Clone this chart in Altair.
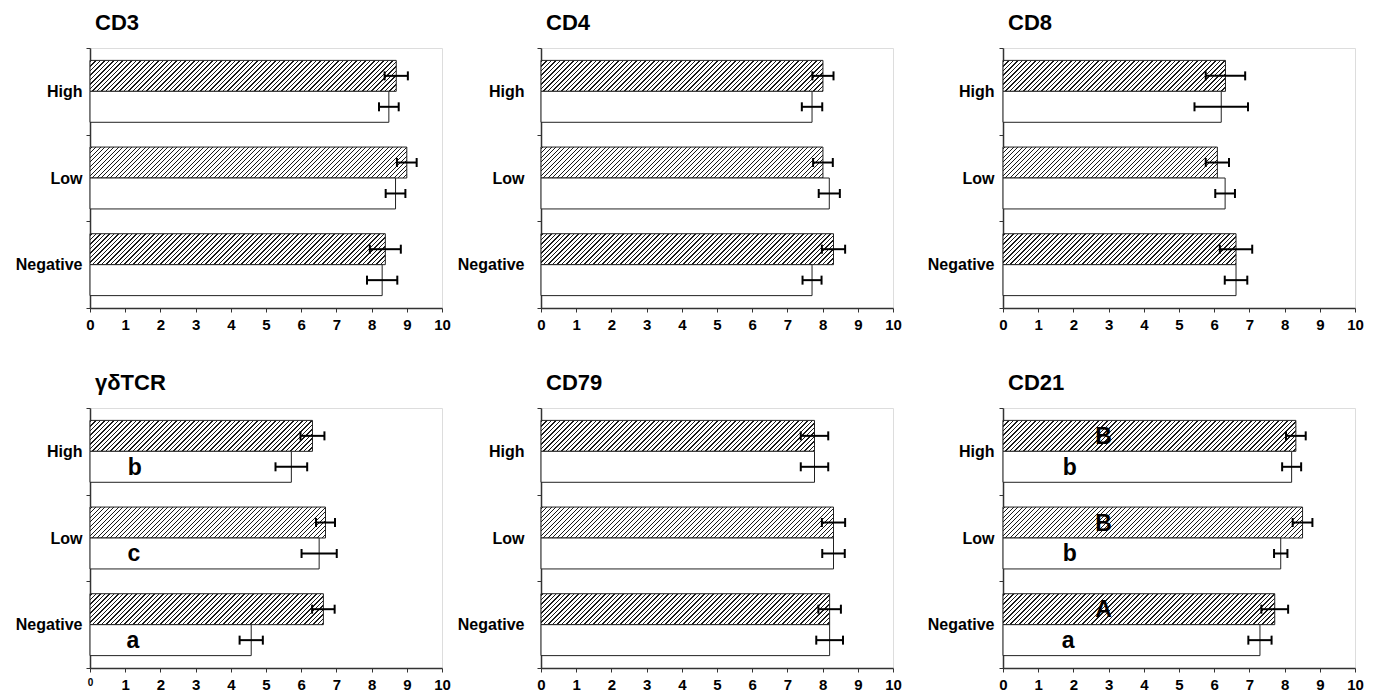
import altair as alt

# ---------------- data ----------------
panels = ["CD3", "CD4", "CD8", "γδTCR", "CD79", "CD21"]
groups = ["High", "Low", "Negative"]
series = ["hatched", "open"]

hatched_mean = {
    "CD3": [8.70, 9.00, 8.39],
    "CD4": [8.01, 8.01, 8.31],
    "CD8": [6.32, 6.09, 6.62],
    "γδTCR": [6.32, 6.69, 6.63],
    "CD79": [7.77, 8.31, 8.20],
    "CD21": [8.32, 8.51, 7.72],
}
hatched_err = {
    "CD3": [0.33, 0.28, 0.44],
    "CD4": [0.30, 0.28, 0.33],
    "CD8": [0.56, 0.33, 0.46],
    "γδTCR": [0.34, 0.27, 0.32],
    "CD79": [0.39, 0.33, 0.32],
    "CD21": [0.28, 0.28, 0.38],
}
open_mean = {
    "CD3": [8.49, 8.68, 8.30],
    "CD4": [7.70, 8.19, 7.70],
    "CD8": [6.20, 6.31, 6.62],
    "γδTCR": [5.72, 6.51, 4.58],
    "CD79": [7.77, 8.31, 8.20],
    "CD21": [8.20, 7.89, 7.30],
}
open_err = {
    "CD3": [0.28, 0.28, 0.43],
    "CD4": [0.29, 0.30, 0.27],
    "CD8": [0.76, 0.28, 0.32],
    "γδTCR": [0.45, 0.50, 0.33],
    "CD79": [0.39, 0.32, 0.38],
    "CD21": [0.27, 0.19, 0.33],
}

# significance letters: panel, group, series, position, letter
letter_panel = ["γδTCR", "γδTCR", "γδTCR", "CD21", "CD21", "CD21", "CD21", "CD21", "CD21"]
letter_group = ["High", "Low", "Negative", "High", "Low", "Negative", "High", "Low", "Negative"]
letter_series = ["open", "open", "open", "hatched", "hatched", "hatched", "open", "open", "open"]
letter_pos = [1.27, 1.25, 1.22, 2.86, 2.86, 2.86, 1.90, 1.90, 1.85]
letter_text = ["b", "c", "a", "B", "B", "A", "b", "b", "a"]

# ---------------- styling ----------------
FONT = "Liberation Sans"
PLOT_W = 352
PLOT_H = 260
PX_PER_UNIT = PLOT_W / 10.0
OFFSET_PAD = 0.4
BAR_H = PLOT_H / 3.0 / (2 + 2 * OFFSET_PAD)
HATCH_PERIOD = 4.5
HATCH_LINE = 1.4
INK = "#1a1a1a"


def hatch(value):
    """Diagonal '/' hatch built as a striped linear gradient for one bar."""
    w = value * PX_PER_UNIT
    h = BAR_H
    tot = w + h
    s = tot / (w * w + h * h)
    stops = [{"offset": 0, "color": "#ffffff"}]
    pos = 1.0
    while pos + HATCH_LINE < tot:
        a = pos / tot
        b = (pos + HATCH_LINE) / tot
        stops += [
            {"offset": a, "color": "#ffffff"},
            {"offset": a, "color": INK},
            {"offset": b, "color": INK},
            {"offset": b, "color": "#ffffff"},
        ]
        pos += HATCH_PERIOD
    stops.append({"offset": 1, "color": "#ffffff"})
    return {"gradient": "linear", "x1": 0, "y1": 0, "x2": w * s, "y2": h * s, "stops": stops}


def bar_records(p):
    recs = []
    for gi, g in enumerate(groups):
        m, e = hatched_mean[p][gi], hatched_err[p][gi]
        recs.append({"group": g, "series": "hatched", "mean": m, "lo": m - e, "hi": m + e,
                     "fillv": hatch(m)})
        m, e = open_mean[p][gi], open_err[p][gi]
        recs.append({"group": g, "series": "open", "mean": m, "lo": m - e, "hi": m + e,
                     "fillv": "#ffffff"})
    return recs


def letter_records(p):
    return [
        {"group": g, "series": s, "pos": x, "txt": t}
        for pp, g, s, x, t in zip(letter_panel, letter_group, letter_series, letter_pos, letter_text)
        if pp == p
    ]


label_pad = [4, 13, 5, 4, 13, 5]
extent = [81, 89, 100, 81, 89, 100]


def panel(i):
    p = panels[i]
    if p == "γδTCR":
        xfs = alt.ExprRef(expr="datum.value == 0 ? 10 : 15")
    else:
        xfs = 15
    xaxis = alt.Axis(values=list(range(11)), title=None, grid=False, labelFontSize=xfs,
                     labelFontWeight="bold", labelColor="black", labelFont=FONT,
                     tickSize=4, tickColor="#333333", domainColor="#333333", domainWidth=1.5,
                     labelPadding=5, labelFlush=False, labelOverlap=False)
    xscale = alt.Scale(domain=[0, 10], nice=False, zero=True)
    yenc = alt.Y("group:N", sort=groups,
                 scale=alt.Scale(domain=groups, paddingInner=0, paddingOuter=0),
                 axis=alt.Axis(title=None, tickBand="extent", labelPadding=label_pad[i],
                               minExtent=extent[i], maxExtent=extent[i],
                               labelFontSize=16, labelFontWeight="bold", labelColor="black",
                               labelFont=FONT, tickSize=4, tickColor="#333333",
                               domainColor="#333333", domainWidth=1.5))
    yoff = alt.YOffset("series:N", sort=series,
                       scale=alt.Scale(domain=series, paddingInner=0, paddingOuter=OFFSET_PAD))

    base = alt.Chart(alt.Data(values=bar_records(p)))
    bars = base.mark_bar(stroke="#222222", strokeWidth=1).encode(
        x=alt.X("mean:Q", scale=xscale, axis=xaxis),
        y=yenc, yOffset=yoff,
        fill=alt.Fill("fillv:N", scale=None, legend=None),
    )
    err = base.mark_rule(strokeWidth=2, color="black").encode(
        x=alt.X("lo:Q", scale=xscale, axis=xaxis), x2="hi:Q", y=yenc, yOffset=yoff)
    cap_lo = base.mark_tick(thickness=2, size=9, color="black", opacity=1).encode(
        x=alt.X("lo:Q", scale=xscale, axis=xaxis), y=yenc, yOffset=yoff)
    cap_hi = base.mark_tick(thickness=2, size=9, color="black", opacity=1).encode(
        x=alt.X("hi:Q", scale=xscale, axis=xaxis), y=yenc, yOffset=yoff)
    layers = [bars, err, cap_lo, cap_hi]
    lrec = letter_records(p)
    if lrec:
        txt = alt.Chart(alt.Data(values=lrec)).mark_text(
            fontSize=23, fontWeight="bold", font=FONT, color="black",
            align="center", baseline="middle", dy=1).encode(
            x=alt.X("pos:Q", scale=xscale, axis=xaxis), y=yenc, yOffset=yoff, text="txt:N")
        layers.append(txt)
    return alt.layer(*layers).properties(
        width=PLOT_W, height=PLOT_H,
        title=alt.TitleParams(p, anchor="start", frame="group", fontSize=22, fontWeight="bold",
                              font=FONT, color="black", dx=5, offset=-12, baseline="alphabetic"),
    )


row1 = alt.hconcat(panel(0), panel(1), panel(2), spacing=0)
row2 = alt.hconcat(panel(3), panel(4), panel(5), spacing=0)
chart = alt.vconcat(row1, row2, spacing=38).properties(
    padding={"left": 0, "top": 3, "right": 5, "bottom": 0}
).configure_view(stroke="#333333", strokeWidth=1).configure(font=FONT, background="white")

chart.save("out.html", embed_options={"renderer": "svg", "actions": False})
